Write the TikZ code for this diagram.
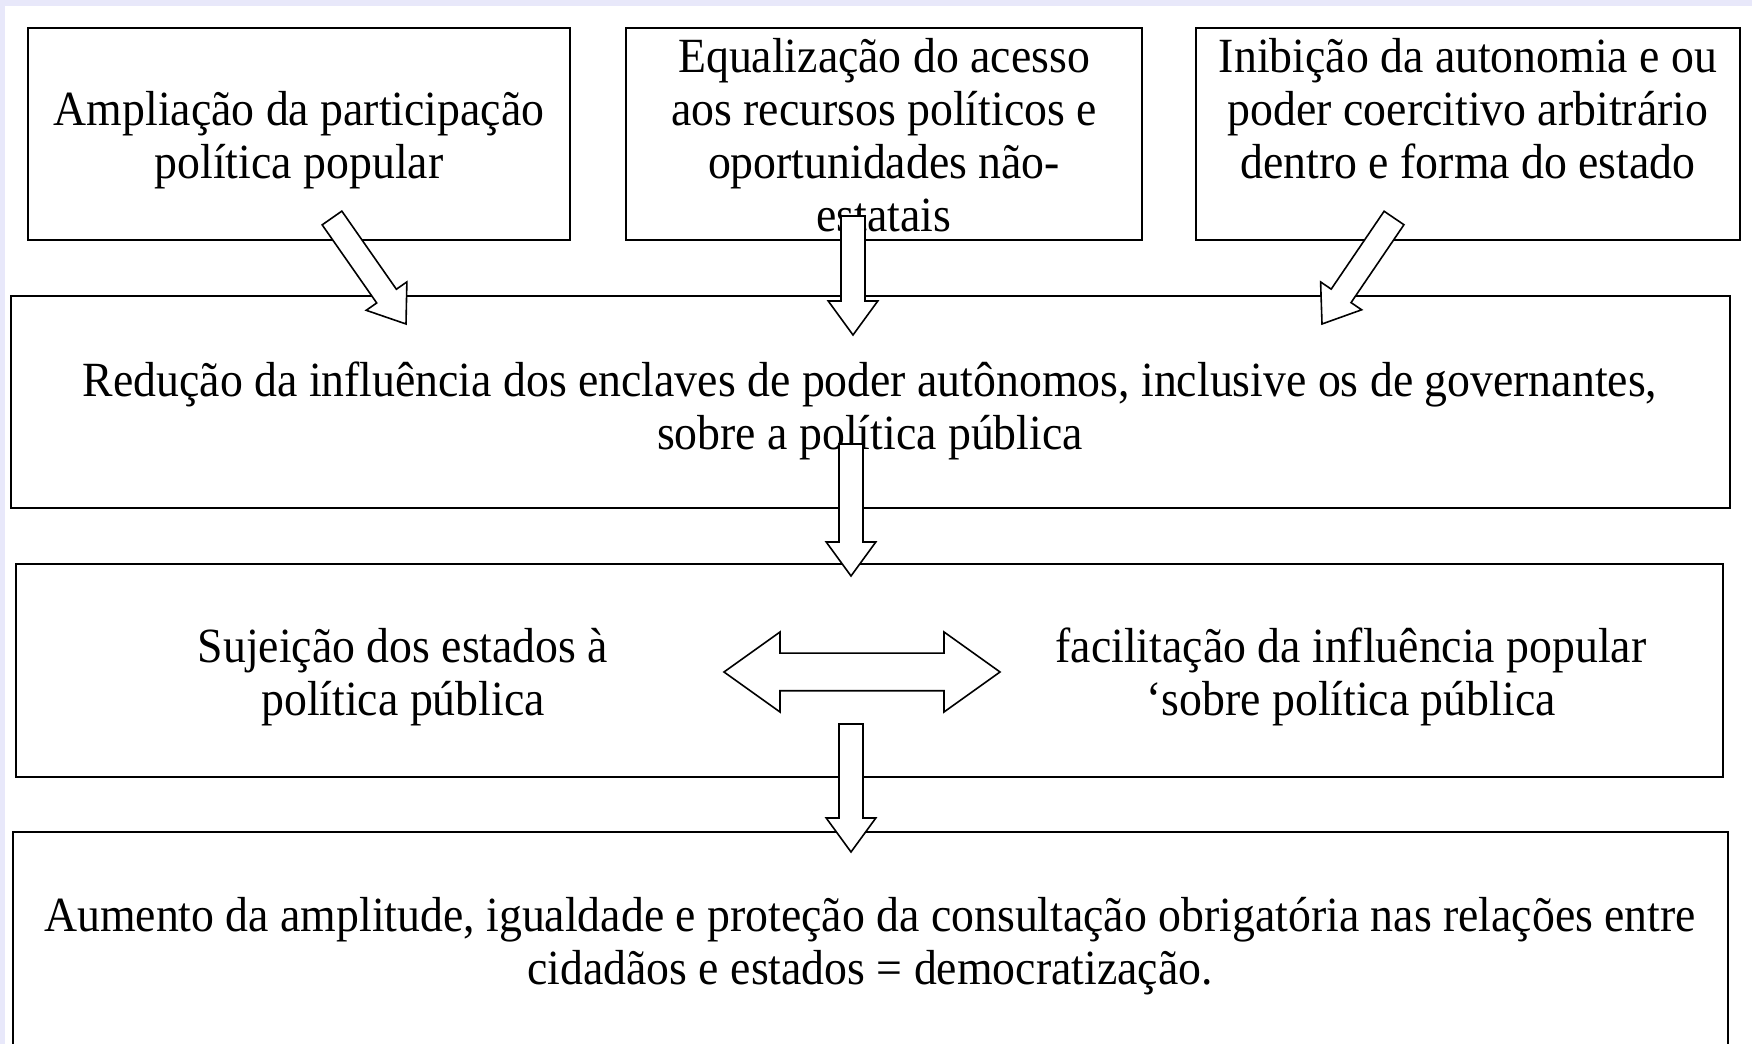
\documentclass[tikz,border=0pt]{standalone}
\usepackage{fontspec}
\setmainfont{Liberation Serif}[FakeStretch=0.93]
\usepackage{tikz}
\usetikzlibrary{calc}

\definecolor{pagebg}{RGB}{232,232,250}

% hollow block arrows, drawn between two named coordinates
\newcommand{\hollowarrow}[2]{%
  \coordinate (hb) at ($(#2)!8.5pt!(#1)$);
  \path[blockarrow] ($(#1)!3pt!90:(#2)$) -- ($(hb)!3pt!90:(#2)$) -- ($(hb)!6.2pt!90:(#2)$) -- (#2)
    -- ($(hb)!6.2pt!-90:(#2)$) -- ($(hb)!3pt!-90:(#2)$) -- ($(#1)!3pt!-90:(#2)$) -- cycle;}
\newcommand{\twowayarrow}[2]{%
  \coordinate (ha) at ($(#1)!14pt!(#2)$);
  \coordinate (hb) at ($(#2)!14pt!(#1)$);
  \path[blockarrow] (#1) -- ($(ha)!10pt!90:(#2)$) -- ($(ha)!4.7pt!90:(#2)$) -- ($(hb)!4.7pt!-90:(#1)$)
    -- ($(hb)!10pt!-90:(#1)$) -- (#2) -- ($(hb)!10pt!90:(#1)$) -- ($(hb)!4.7pt!90:(#1)$)
    -- ($(ha)!4.7pt!-90:(#2)$) -- ($(ha)!10pt!-90:(#2)$) -- cycle;}

\begin{document}
\begin{tikzpicture}[x=0.25pt,y=-0.25pt,
    box/.style={draw,line width=0.5pt,inner sep=0pt,minimum height=53pt},
    txt/.style={inner sep=0pt,align=center,font=\fontsize{12.3}{13.25}\selectfont},
    blockarrow/.style={draw,fill=white,line width=0.4pt,line join=miter}]

  \useasboundingbox (0,0) rectangle (1752,1044);
  \clip (0,0) rectangle (1752,1044);
  \fill[pagebg] (0,0) rectangle (1752,6);
  \fill[pagebg] (0,0) rectangle (5,1044);

  \node[box,minimum width=135.5pt] (1) at (299,134) {};
  \node[box,minimum width=129pt] (2) at (884,134) {};
  \node[box,minimum width=136pt] (3) at (1468,134) {};
  \node[box,minimum width=429.75pt] (4) at (870.5,402) {};
  \node[box,minimum width=426.75pt,minimum height=53.25pt] (5) at (869.5,670.5) {};
  \node[box,minimum width=428.75pt,minimum height=54.5pt] (6) at (870.5,941) {};

  \node[txt] (1t) at (299,140) {Ampliação da participação\\política popular};
  \node[txt] (2t) at (884,135) {Equalização do acesso\\aos recursos políticos e\\oportunidades não-\\estatais};
  \node[txt] (3t) at (1468,109) {Inibição da autonomia e ou\\poder coercitivo arbitrário\\dentro e forma do estado};
  \node[txt] (4t) at (870,411) {Redução da influência dos enclaves de poder autônomos, inclusive os de governantes,\\sobre a política pública};
  \node[txt] (5l) at (403,677) {Sujeição dos estados à\\política pública};
  \node[txt] (5r) at (1351,677) {facilitação da influência popular\\‘sobre política pública};
  \node[txt] (6t) at (870,946) {Aumento da amplitude, igualdade e proteção da consultação obrigatória nas relações entre\\cidadãos e estados = democratização.};

  \coordinate (a1) at (332,218);  \coordinate (b1) at (406,324);
  \coordinate (a2) at (853,216);  \coordinate (b2) at (853,335);
  \coordinate (a3) at (1394,218); \coordinate (b3) at (1322,324);
  \coordinate (a4) at (851,444);  \coordinate (b4) at (851,576);
  \coordinate (a5) at (851,724);  \coordinate (b5) at (851,852);
  \coordinate (dl) at (724,672);  \coordinate (dr) at (1000,672);

  \hollowarrow{a1}{b1}
  \hollowarrow{a2}{b2}
  \hollowarrow{a3}{b3}
  \hollowarrow{a4}{b4}
  \hollowarrow{a5}{b5}
  \twowayarrow{dl}{dr}

\end{tikzpicture}
\end{document}
